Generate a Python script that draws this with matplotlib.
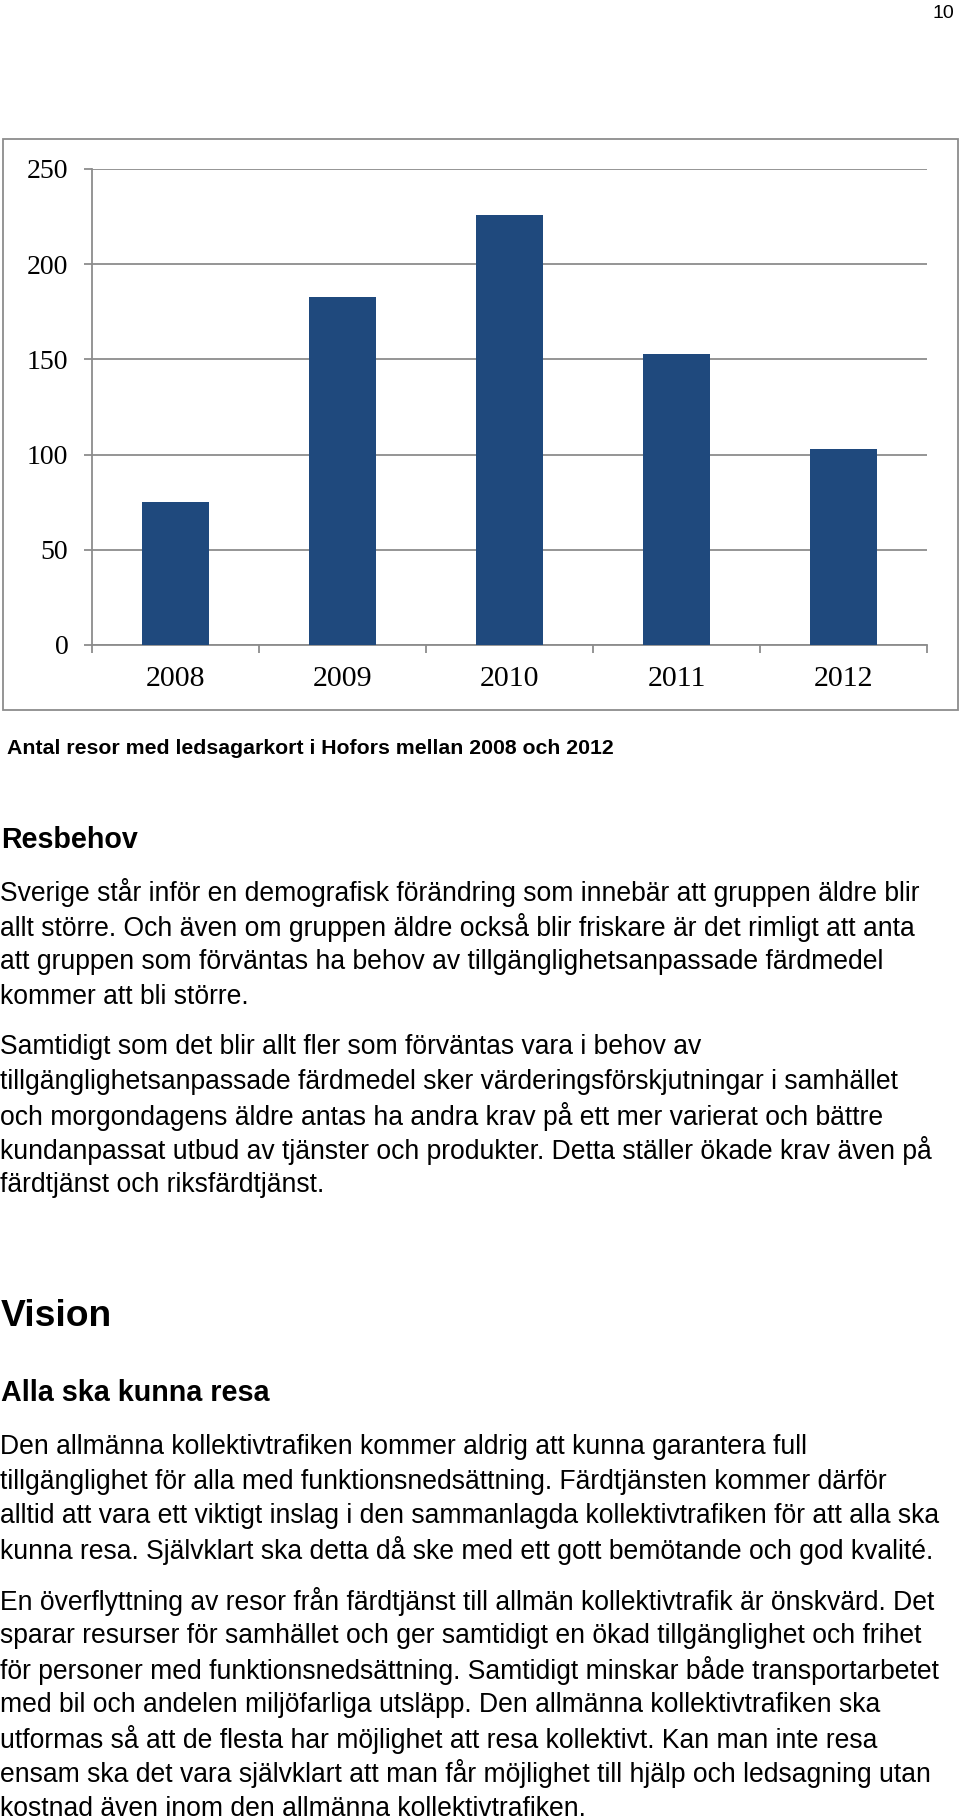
import matplotlib.pyplot as plt
from matplotlib.patches import Rectangle
import numpy as np

years = ['2008', '2009', '2010', '2011', '2012']
trips = [75, 183, 226, 153, 103]
yticks = [0, 50, 100, 150, 200, 250]

caption = 'Antal resor med ledsagarkort i Hofors mellan 2008 och 2012'
page_no = '10'
head1 = 'Resbehov'
para1 = ['Sverige står inför en demografisk förändring som innebär att gruppen äldre blir',
         'allt större. Och även om gruppen äldre också blir friskare är det rimligt att anta',
         'att gruppen som förväntas ha behov av tillgänglighetsanpassade färdmedel',
         'kommer att bli större.']
para2 = ['Samtidigt som det blir allt fler som förväntas vara i behov av',
         'tillgänglighetsanpassade färdmedel sker värderingsförskjutningar i samhället',
         'och morgondagens äldre antas ha andra krav på ett mer varierat och bättre',
         'kundanpassat utbud av tjänster och produkter. Detta ställer ökade krav även på',
         'färdtjänst och riksfärdtjänst.']
head2 = 'Vision'
head3 = 'Alla ska kunna resa'
para3 = ['Den allmänna kollektivtrafiken kommer aldrig att kunna garantera full',
         'tillgänglighet för alla med funktionsnedsättning. Färdtjänsten kommer därför',
         'alltid att vara ett viktigt inslag i den sammanlagda kollektivtrafiken för att alla ska',
         'kunna resa. Självklart ska detta då ske med ett gott bemötande och god kvalité.']
para4 = ['En överflyttning av resor från färdtjänst till allmän kollektivtrafik är önskvärd. Det',
         'sparar resurser för samhället och ger samtidigt en ökad tillgänglighet och frihet',
         'för personer med funktionsnedsättning. Samtidigt minskar både transportarbetet',
         'med bil och andelen miljöfarliga utsläpp. Den allmänna kollektivtrafiken ska',
         'utformas så att de flesta har möjlighet att resa kollektivt. Kan man inte resa',
         'ensam ska det vara självklart att man får möjlighet till hjälp och ledsagning utan',
         'kostnad även inom den allmänna kollektivtrafiken.']

W, H = 960, 1818
fig = plt.figure(figsize=(W / 100, H / 100), dpi=100)
fig.patch.set_facecolor('white')

def fy(y):
    return 1 - y / H

# chart frame
fig.patches.append(Rectangle((3 / W, fy(710)), 955 / W, 571 / H, transform=fig.transFigure,
                             fill=False, edgecolor='#8c8c8c', linewidth=1.3))

grey = '#8c8c8c'
ax = fig.add_axes([92 / W, fy(645), 835 / W, 476 / H])
x = np.arange(len(years))
ax.bar(x, trips, width=0.4, color='#1f497d', zorder=3)
ax.set_xlim(-0.5, len(years) - 0.5)
ax.set_ylim(0, 250)
ax.set_yticks(yticks)
ax.set_yticklabels([str(v) for v in yticks], family='Liberation Serif', fontsize=20)
ax.set_xticks(x)
ax.set_xticklabels(years, family='Liberation Serif', fontsize=21.5)
ax.set_xticks(np.arange(-0.5, len(years)), minor=True)
ax.grid(axis='y', color=grey, linewidth=1.3, zorder=0)
for s in ['top', 'right']:
    ax.spines[s].set_visible(False)
for s in ['left', 'bottom']:
    ax.spines[s].set_color(grey)
    ax.spines[s].set_linewidth(1.3)
ax.tick_params(axis='y', length=6, color=grey, width=1.3, pad=11)
ax.tick_params(axis='x', which='major', length=0, pad=15)
ax.tick_params(axis='x', which='minor', length=6, color=grey, width=1.3)

sans = 'Liberation Sans'
fig.text(954 / W, fy(14), page_no, family=sans, fontsize=14, ha='right', va='center')
fig.text(7 / W, fy(748), caption, family=sans, fontsize=15.3, weight='bold', va='center')
fig.text(1 / W, fy(840), head1, family=sans, fontsize=20.6, weight='bold', va='center')

def block(lines, y0, step=34.6):
    for i, s in enumerate(lines):
        fig.text(0, fy(y0 + i * step), s, family=sans, fontsize=19.1, va='center')

block(para1, 893)
block(para2, 1047)
fig.text(1 / W, fy(1317), head2, family=sans, fontsize=26.8, weight='bold', va='center')
fig.text(1 / W, fy(1393), head3, family=sans, fontsize=20.7, weight='bold', va='center')
block(para3, 1447)
block(para4, 1601)

fig.savefig('out.png', dpi=100)
